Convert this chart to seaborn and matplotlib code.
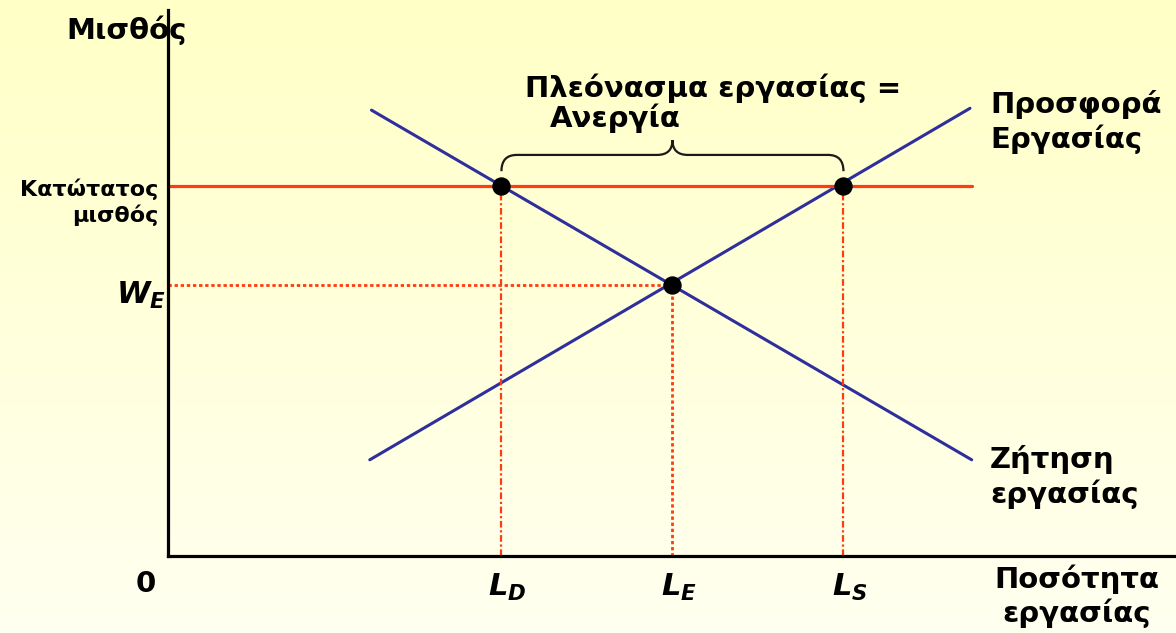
import matplotlib
matplotlib.use('Agg')
import matplotlib.pyplot as plt
from matplotlib.path import Path
from matplotlib.patches import PathPatch
import seaborn as sns
import numpy as np
import pandas as pd

# labour market with a minimum wage (quantity units, wage units)
demand_q = [11.9, 47.0]
demand_w = [12.05, 2.6]
supply_q = [11.8, 46.9]
supply_w = [2.6, 12.1]

min_wage = 10.0
w_eq = 7.32
L_points = [19.5, 29.5, 39.5]          # L_D, L_E, L_S
L_labels = [r'$L_D$', r'$L_E$', r'$L_S$']
dot_q = [19.5, 39.5, 29.5]
dot_w = [10.0, 10.0, 7.32]

BLUE = '#2e2e9c'
RED = '#ff3b12'

sns.set_style('white')
plt.rcParams['font.family'] = ['DejaVu Sans']
plt.rcParams['text.color'] = 'black'
plt.rcParams['mathtext.fontset'] = 'custom'
plt.rcParams['mathtext.it'] = 'DejaVu Sans:italic:bold'
plt.rcParams['mathtext.rm'] = 'DejaVu Sans:bold'

W, H = 1176, 633
fig = plt.figure(figsize=(W / 100, H / 100), dpi=100)

# cream background gradient
bg = fig.add_axes([0, 0, 1, 1])
grad = np.linspace(0, 1, 256).reshape(-1, 1)
cmap = matplotlib.colors.LinearSegmentedColormap.from_list('bg', ['#ffffc6', '#fffff0'])
bg.imshow(grad, aspect='auto', cmap=cmap, extent=[0, 1, 0, 1])
bg.axis('off')

# axes with origin at pixel (168, 556)
ax = fig.add_axes([168 / W, (H - 556) / H, (W - 168) / W, (556 - 10) / H])
ax.patch.set_alpha(0)
ax.set_xlim(0, (W - 168) / 17.1)
ax.set_ylim(0, (556 - 10) / 37.0)
for s in ['top', 'right']:
    ax.spines[s].set_visible(False)
for s in ['left', 'bottom']:
    ax.spines[s].set_linewidth(2.3)
    ax.spines[s].set_color('black')
ax.set_xticks([])
ax.set_yticks([])

demand = pd.DataFrame({'q': demand_q, 'w': demand_w})
supply = pd.DataFrame({'q': supply_q, 'w': supply_w})
sns.lineplot(data=demand, x='q', y='w', color=BLUE, lw=2.2, ax=ax, sort=False)
sns.lineplot(data=supply, x='q', y='w', color=BLUE, lw=2.2, ax=ax, sort=False)
ax.set_xlabel('')
ax.set_ylabel('')

# minimum wage line and guides
ax.plot([0, 47.0], [min_wage, min_wage], color=RED, lw=2.3)
ax.plot([0, L_points[1]], [w_eq, w_eq], color=RED, lw=2, ls=(0, (1.2, 1.0)))
ax.plot([L_points[0]] * 2, [0, min_wage], color=RED, lw=1.6, ls=(0, (3, 1.2, 1, 1.2)))
ax.plot([L_points[2]] * 2, [0, min_wage], color=RED, lw=1.6, ls=(0, (3, 1.2, 1, 1.2)))
ax.plot([L_points[1]] * 2, [0, w_eq], color=RED, lw=2, ls=(0, (1.2, 1.0)))

sns.scatterplot(x=dot_q, y=dot_w, color='black', s=150, marker='o', ax=ax,
                edgecolor='black', zorder=5)

# curly brace over the labour surplus
x0, x1 = L_points[0], L_points[2]
xm = (x0 + x1) / 2
y0, y1, y2 = 10.4, 10.84, 11.24
r = 0.9
verts = [(x0, y0), (x0, y1), (x0 + r, y1),
         (xm - r, y1),
         (xm, y1), (xm, y2),
         (xm, y1), (xm + r, y1),
         (x1 - r, y1),
         (x1, y1), (x1, y0)]
codes = [Path.MOVETO, Path.CURVE3, Path.CURVE3,
         Path.LINETO,
         Path.CURVE3, Path.CURVE3,
         Path.CURVE3, Path.CURVE3,
         Path.LINETO,
         Path.CURVE3, Path.CURVE3]
ax.add_patch(PathPatch(Path(verts, codes), fill=False, lw=1.6, color='#1a1a1a'))


def px(x, y):
    return x / W, 1 - y / H


big = 21
fig.text(*px(127, 30), 'Μισθός', fontsize=big, fontweight='bold', ha='center', va='center')
fig.text(*px(158, 202), 'Κατώτατος\nμισθός', fontsize=16, fontweight='bold',
         ha='right', va='center', linespacing=1.25)
fig.text(*px(166, 295), r'$W_E$', fontsize=22, ha='right', va='center')
fig.text(*px(146, 584), '0', fontsize=big, fontweight='bold', ha='center', va='center')
for q, lab in zip(L_points, L_labels):
    ax.text(q + 0.35, -0.85, lab, fontsize=22, ha='center', va='center', clip_on=False)
fig.text(*px(1077, 596), 'Ποσότητα\nεργασίας', fontsize=big, fontweight='bold',
         ha='center', va='center', linespacing=1.2)
fig.text(*px(990, 122), 'Προσφορά\nΕργασίας', fontsize=big, fontweight='bold',
         ha='left', va='center', linespacing=1.25)
fig.text(*px(990, 477), 'Ζήτηση\nεργασίας', fontsize=big, fontweight='bold',
         ha='left', va='center', linespacing=1.25)
fig.text(*px(525, 88), 'Πλεόνασμα εργασίας =', fontsize=big, fontweight='bold',
         ha='left', va='center')
fig.text(*px(550, 118), 'Ανεργία', fontsize=big, fontweight='bold',
         ha='left', va='center')

fig.savefig('out.png', dpi=100)
